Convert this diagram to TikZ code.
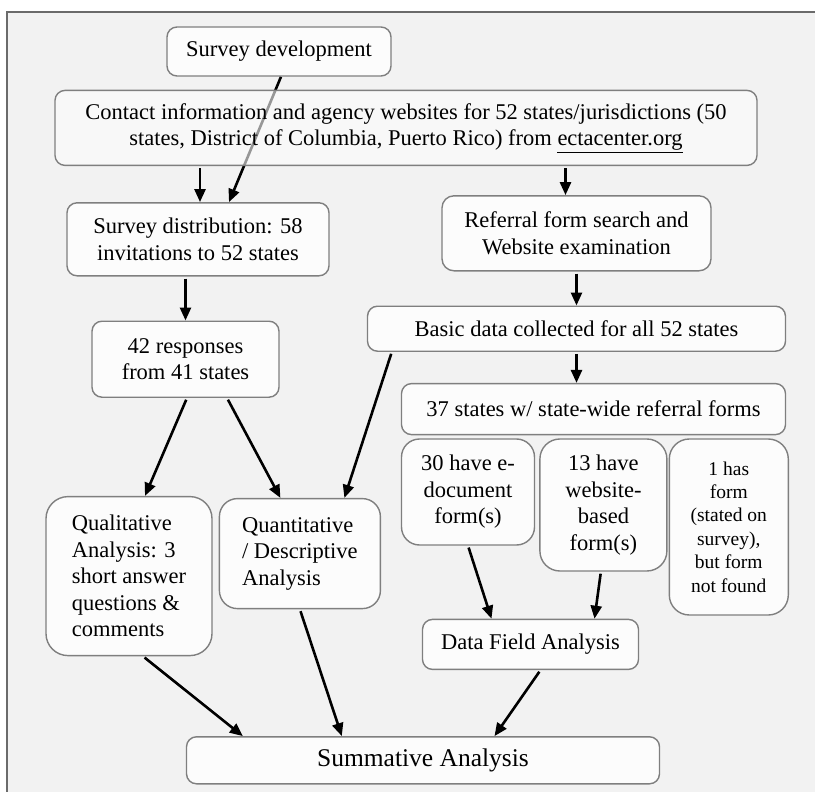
\documentclass[tikz,border=0pt]{standalone}
\usepackage{fontspec}
\setmainfont{Liberation Serif}
\usetikzlibrary{arrows.meta,positioning,backgrounds}
\definecolor{frame}{HTML}{6B6B6B}
\definecolor{panel}{HTML}{F2F2F2}
\definecolor{boxline}{HTML}{7F7F7F}
\definecolor{boxfill}{HTML}{FCFCFC}
\tikzset{
  nodebox/.style={draw=boxline, line width=1.4pt, rounded corners=10pt, fill=boxfill, inner sep=0pt, align=center, font=\fontsize{22.5}{26.5}\selectfont},
  arr/.style={-{Triangle[length=13pt,width=11pt]}, line width=2.6pt, draw=black, shorten <=2pt}
}
\begin{document}
\begin{tikzpicture}[x=1pt,y=1pt]
  \useasboundingbox (0,0) rectangle (815,-792);

  \node[nodebox, minimum width=224pt, minimum height=49pt] (dev) at (279,-51.5) {Survey development};
  \node[nodebox, minimum width=702pt, minimum height=75pt, fill opacity=0.6, text opacity=1, below=13pt of dev, xshift=127pt] (contact)
    {Contact information and agency websites for 52 states/jurisdictions (50\\states, District of Columbia, Puerto Rico) from \underline{ectacenter.org}};

  % survey branch
  \node[nodebox, minimum width=262pt, minimum height=73pt, below right=36pt and 12pt of contact.south west] (distr)
    {Survey distribution: 58\\invitations to 52 states};
  \node[nodebox, minimum width=187pt, minimum height=76pt, below=44pt of distr, xshift=-12.5pt] (resp)
    {42 responses\\from 41 states};
  \node[nodebox, rounded corners=22pt, align=left, minimum width=166pt, minimum height=159pt, below=98pt of resp.south west, anchor=north west, xshift=-46pt] (qual)
    {Qualitative\\Analysis: 3\\short answer\\questions \&\\comments};
  \node[nodebox, rounded corners=18pt, align=left, minimum width=161pt, minimum height=110pt, right=6pt of qual.north east, anchor=north west, yshift=-2pt] (quant)
    {Quantitative\\/ Descriptive\\Analysis};

  % website branch
  \node[nodebox, rounded corners=12pt, minimum width=269pt, minimum height=75pt, below left=29pt and 46pt of contact.south east] (refer)
    {Referral form search and\\Website examination};
  \node[nodebox, minimum width=418pt, minimum height=45pt, below=34pt of refer] (basic)
    {Basic data collected for all 52 states};
  \node[nodebox, minimum width=384pt, minimum height=51pt, below=31pt of basic.south east, anchor=north east] (stwide)
    {37 states w/ state-wide referral forms};
  \node[nodebox, rounded corners=18pt, minimum width=133pt, minimum height=106pt, below=3pt of stwide.south west, anchor=north west] (edoc)
    {30 have e-\\document\\form(s)};
  \node[nodebox, rounded corners=20pt, minimum width=127pt, minimum height=132pt, right=4pt of edoc.north east, anchor=north west] (web)
    {13 have\\website-\\based\\form(s)};
  \node[nodebox, rounded corners=20pt, minimum width=119pt, minimum height=176pt, right=1pt of web.north east, anchor=north west,
    font=\fontsize{19.5}{23.4}\selectfont] (nofound)
    {1 has\\form\\(stated on\\survey),\\but form\\not found};
  \node[nodebox, minimum width=216pt, minimum height=50pt, below=73pt of edoc.south west, anchor=north west, xshift=21pt] (field)
    {Data Field Analysis};

  \node[nodebox, minimum width=473pt, minimum height=47pt, below=66pt of field, xshift=-107.5pt,
    font=\fontsize{25.5}{30}\selectfont] (summ) {Summative Analysis};

  \begin{pgfonlayer}{background}
    \fill[panel] (7,-12) rectangle (815,-792);
    \draw[frame, line width=2pt] (7,-792) -- (7,-12) -- (815,-12);
    \draw[arr, shorten <=0pt] ([xshift=2pt]dev.south) -- ([xshift=31pt]distr.north);
  \end{pgfonlayer}

  % arrows from contact information
  \draw[arr] ([xshift=2pt]distr.north |- contact.south) -- ([xshift=2pt]distr.north);
  \draw[arr] ([xshift=-11pt]refer.north |- contact.south) -- ([xshift=-11pt]refer.north);

  % survey arrows
  \draw[arr] (distr.south -| resp.north) -- (resp.north);
  \draw[arr] ([xshift=1.5pt]resp.south) -- ([xshift=16pt]qual.north);
  \draw[arr] ([xshift=41.5pt]resp.south) -- ([xshift=-19.5pt]quant.north);

  % website arrows
  \draw[arr] (refer.south) -- (refer.south |- basic.north);
  \draw[arr] (basic.south) -- (basic.south |- stwide.north);
  \draw[arr] ([xshift=25pt]basic.south west) -- ([xshift=44.5pt]quant.north);
  \draw[arr] (edoc.south) -- ([xshift=-39pt]field.north);
  \draw[arr] ([xshift=-2.5pt]web.south) -- ([xshift=64pt]field.north);

  % to summative analysis
  \draw[arr] ([xshift=14pt]qual.south) -- ([xshift=57pt]summ.north west);
  \draw[arr] (quant.south) -- ([xshift=156pt]summ.north west);
  \draw[arr] ([xshift=10pt]field.south) -- ([xshift=71.5pt]summ.north);
\end{tikzpicture}
\end{document}
